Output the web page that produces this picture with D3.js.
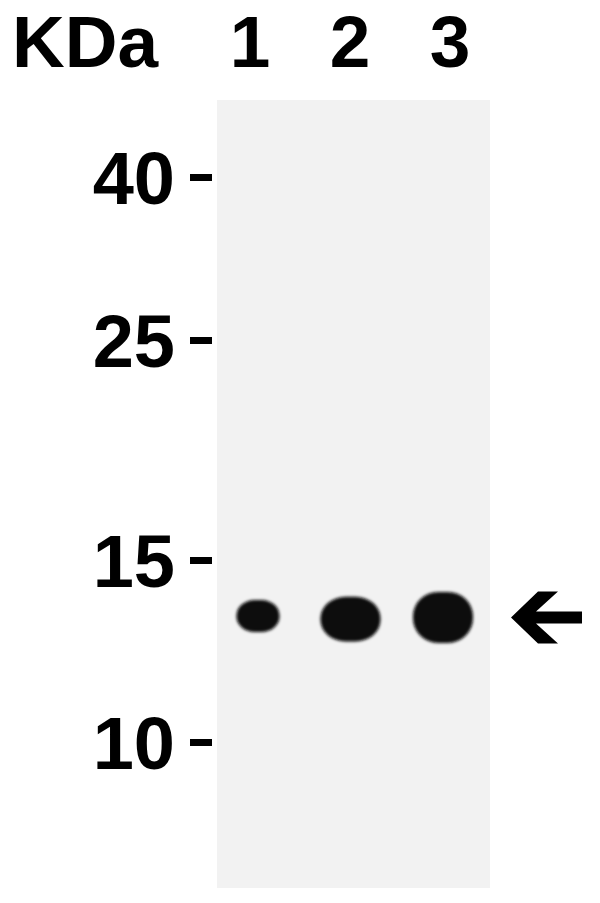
<!DOCTYPE html>
<html lang="en">
  <head>
    <meta charset="UTF-8" />
    <title>Western blot</title>
    <script src="https://d3js.org/d3.v7.min.js"></script>
    <style>
      html,
      body {
        margin: 0;
        padding: 0;
        background-color: #ffffff;
      }
      svg {
        display: block;
      }
      text {
        font-family: "Liberation Sans", Arial, sans-serif;
        font-weight: bold;
        fill: #000;
      }
    </style>
  </head>
  <body>
    <svg id="chart"></svg>
    <script>
      const lanes = ["1", "2", "3"];
      const markers = [40, 25, 15, 10]; // KDa ladder
      const bandMass = [13.24, 13.15, 13.2]; // KDa, one band per lane
      const bandIntensity = [0.55, 0.85, 1.0]; // relative signal
      const targetMass = 13.2; // arrow

      const width = 600;
      const height = 903;

      const svg = d3
        .select("#chart")
        .attr("width", width)
        .attr("height", height);

      // membrane area
      const membrane = { x0: 217, x1: 490, y0: 100, y1: 888 };

      // ladder is not quite log-linear on the gel, so piecewise log scale
      const y = d3
        .scaleLog()
        .domain([10, 15, 25, 40])
        .range([742, 560, 340, 177]);

      const xLabel = d3.scalePoint().domain(lanes).range([250, 450]);
      const xBand = d3.scalePoint().domain(lanes).range([258, 443]);

      const bandW = d3.scaleLinear().domain([0.55, 0.85]).range([43, 60]).clamp(true);
      const bandH = d3.scaleLinear().domain([0.55, 1.0]).range([32, 51]);

      const defs = svg.append("defs");
      defs
        .append("filter")
        .attr("id", "soft")
        .attr("x", "-20%")
        .attr("y", "-20%")
        .attr("width", "140%")
        .attr("height", "140%")
        .append("feGaussianBlur")
        .attr("stdDeviation", 1.4);

      // membrane
      svg
        .append("rect")
        .attr("x", membrane.x0)
        .attr("y", membrane.y0)
        .attr("width", membrane.x1 - membrane.x0)
        .attr("height", membrane.y1 - membrane.y0)
        .attr("fill", "#f2f2f2");

      // bands
      svg
        .append("g")
        .attr("filter", "url(#soft)")
        .selectAll("rect")
        .data(lanes)
        .enter()
        .append("rect")
        .attr("x", (d, i) => xBand(d) - bandW(bandIntensity[i]) / 2)
        .attr("y", (d, i) => y(bandMass[i]) - bandH(bandIntensity[i]) / 2)
        .attr("width", (d, i) => bandW(bandIntensity[i]))
        .attr("height", (d, i) => bandH(bandIntensity[i]))
        .attr("rx", (d, i) => bandW(bandIntensity[i]) * 0.42)
        .attr("ry", (d, i) => bandH(bandIntensity[i]) * 0.48)
        .attr("fill", "#0b0b0b");

      // marker axis
      const axis = d3
        .axisLeft(y)
        .tickValues(markers)
        .tickSize(22)
        .tickPadding(15)
        .tickFormat(d3.format("d"));

      const gAxis = svg
        .append("g")
        .attr("transform", "translate(212,0)")
        .call(axis);
      gAxis.select(".domain").remove();
      gAxis.selectAll(".tick line").attr("stroke", "#000").attr("stroke-width", 7);
      gAxis
        .selectAll(".tick text")
        .attr("font-size", 74)
        .attr("dy", "0.36em")
        .attr("fill", "#000");

      // header
      svg
        .append("text")
        .attr("x", 12)
        .attr("y", 67)
        .attr("font-size", 73)
        .text("KDa");

      svg
        .selectAll(".lane-label")
        .data(lanes)
        .enter()
        .append("text")
        .attr("class", "lane-label")
        .attr("x", (d) => xLabel(d))
        .attr("y", 67)
        .attr("text-anchor", "middle")
        .attr("font-size", 73)
        .text((d) => d);

      // arrow pointing at the target band
      const ay = y(targetMass);
      const ax = 511;
      const arrow = [
        [ax, ay],
        [ax + 27, ay - 26],
        [ax + 47, ay - 26],
        [ax + 25, ay - 6],
        [ax + 71, ay - 6],
        [ax + 71, ay + 6],
        [ax + 25, ay + 6],
        [ax + 47, ay + 26],
        [ax + 27, ay + 26],
      ];
      svg
        .append("path")
        .attr("d", d3.line()(arrow) + "Z")
        .attr("fill", "#000");
    </script>
  </body>
</html>
